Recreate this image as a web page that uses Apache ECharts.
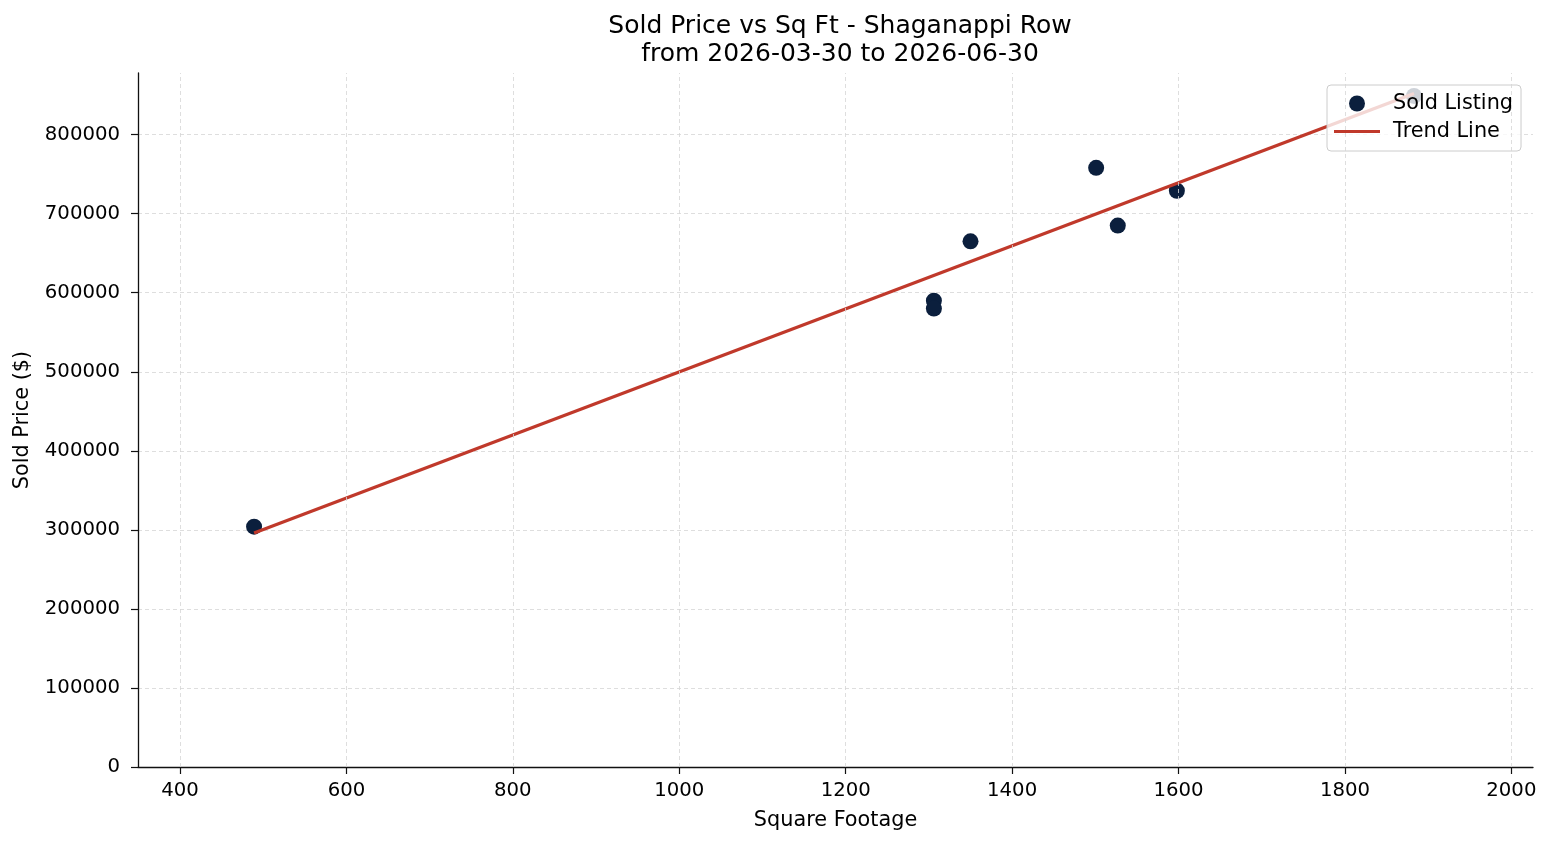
<!DOCTYPE html>
<html>
<head>
<meta charset="utf-8">
<script src="https://cdn.jsdelivr.net/npm/echarts@6/dist/echarts.min.js"></script>
<style>
  html, body { margin: 0; padding: 0; background: #fff; }
  #main { width: 1552px; height: 845px; }
</style>
</head>
<body>
<div id="main"></div>
<script>
// sold listings (sq ft, price)
var sqft = [489, 1306, 1306, 1350, 1501, 1527, 1598, 1883];
var price = [304000, 590000, 580000, 665000, 758000, 685000, 729000, 849000];

// fitted trend line end points
var trendX = [489, 1883];
var trendY = [296000, 852000];

// x axis tick values
var xTicks = [400, 600, 800, 1000, 1200, 1400, 1600, 1800, 2000];

var soldData = sqft.map(function (x, i) { return [x, price[i]]; });
var trendData = trendX.map(function (x, i) { return [x, trendY[i]]; });
var xGrid = xTicks.map(function (v) { return { xAxis: v }; });

var font = 'DejaVu Sans';
var gridStyle = { color: '#d6d6d6', type: [4, 3], width: 0.8 };

var option = {
    animation: false,
    title: {
        text: 'Sold Price vs Sq Ft - Shaganappi Row\nfrom 2026-03-30 to 2026-06-30',
        left: 835,
        textAlign: 'center',
        top: 7,
        textStyle: {
            fontFamily: font,
            fontSize: 25,
            fontWeight: 'normal',
            color: '#000',
            lineHeight: 28
        }
    },
    legend: {
        orient: 'vertical',
        left: 1327,
        top: 85,
        padding: [8, 8, 9, 7],
        itemWidth: 46,
        itemHeight: 16,
        itemGap: 7,
        backgroundColor: 'rgba(255,255,255,0.8)',
        borderColor: '#cccccc',
        borderWidth: 1,
        borderRadius: 4,
        textStyle: {
            fontFamily: font, fontSize: 20.8, lineHeight: 21, color: '#000',
            padding: [0, 0, 0, 8]
        },
        data: [
            { name: 'Sold Listing', icon: 'circle' },
            { name: 'Trend Line', icon: 'path://M0,0H46V3H0Z' }
        ]
    },
    grid: {
        left: 138,
        right: 19,
        top: 73,
        bottom: 78
    },
    xAxis: {
        type: 'value',
        name: 'Square Footage',
        nameLocation: 'middle',
        nameGap: 43,
        nameTextStyle: { fontFamily: font, fontSize: 20.8, color: '#000' },
        min: 349.5,
        max: 2026,
        axisLine: { show: true, lineStyle: { color: '#111', width: 1.3 } },
        axisTick: { show: true, length: 7, customValues: xTicks, lineStyle: { color: '#111', width: 1.2 } },
        axisLabel: {
            fontFamily: font, fontSize: 19.7, color: '#000', margin: 14,
            customValues: xTicks,
            formatter: function (v) { return String(v); }
        },
        splitLine: { show: false }
    },
    yAxis: {
        type: 'value',
        name: 'Sold Price ($)',
        nameLocation: 'middle',
        nameGap: 105,
        nameTextStyle: { fontFamily: font, fontSize: 20.8, color: '#000' },
        min: 0,
        max: 878000,
        interval: 100000,
        axisLine: { show: true, lineStyle: { color: '#111', width: 1.3 } },
        axisTick: { show: true, length: 7, lineStyle: { color: '#111', width: 1.2 } },
        axisLabel: {
            fontFamily: font, fontSize: 19.7, color: '#000', margin: 18,
            showMaxLabel: false,
            formatter: function (v) { return String(v); }
        },
        splitLine: {
            show: true,
            showMinLine: false,
            showMaxLine: false,
            lineStyle: gridStyle
        }
    },
    series: [
        {
            // vertical grid lines at the x ticks
            name: 'grid',
            type: 'line',
            data: [],
            silent: true,
            z: 1,
            markLine: {
                silent: true,
                symbol: 'none',
                label: { show: false },
                lineStyle: gridStyle,
                data: xGrid
            }
        },
        {
            name: 'Sold Listing',
            type: 'scatter',
            symbol: 'circle',
            symbolSize: 16,
            itemStyle: { color: '#0b1f3d', opacity: 1 },
            data: soldData,
            z: 2
        },
        {
            name: 'Trend Line',
            type: 'line',
            showSymbol: false,
            symbol: 'none',
            lineStyle: { color: '#c0392b', width: 3.3 },
            itemStyle: { color: '#c0392b' },
            data: trendData,
            z: 3
        }
    ]
};

var myChart = echarts.init(document.getElementById('main'), null, { renderer: 'canvas' });
myChart.setOption(option);
</script>
</body>
</html>
